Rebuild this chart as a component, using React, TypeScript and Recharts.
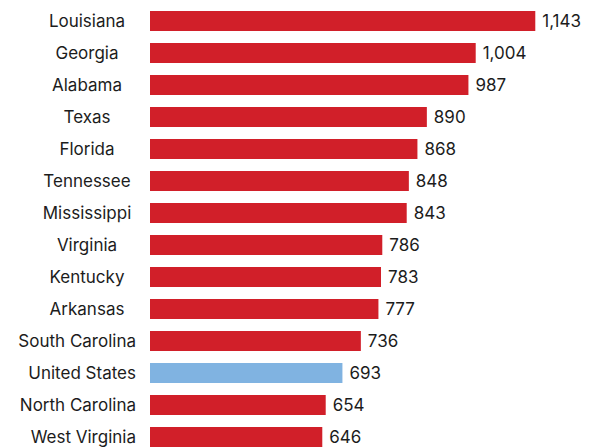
import React from "react";
import { BarChart, Bar, XAxis, YAxis, Cell, LabelList } from "recharts";

const states = [
  "Louisiana",
  "Georgia",
  "Alabama",
  "Texas",
  "Florida",
  "Tennessee",
  "Mississippi",
  "Virginia",
  "Kentucky",
  "Arkansas",
  "South Carolina",
  "United States",
  "North Carolina",
  "West Virginia",
];
const rates = [1143, 1004, 987, 890, 868, 848, 843, 786, 783, 777, 736, 693, 654, 646];
const highlight = "United States";

const RED = "#d11f29";
const BLUE = "#80b3e1";
const FONT = "Inter, 'Noto Sans', sans-serif";

const data = states.map((name, i) => ({ name, value: rates[i] }));

let ctx: CanvasRenderingContext2D | null = null;
function textWidth(s: string) {
  if (!ctx) ctx = document.createElement("canvas").getContext("2d");
  if (!ctx) return s.length * 8;
  ctx.font = `17px ${FONT}`;
  return ctx.measureText(s).width;
}

// short names sit centred in the label column, long ones hug the bars
function StateTick({ y, payload }: any) {
  const label = String(payload.value);
  const w = textWidth(label);
  const center = 87;
  const right = 136;
  const useEnd = center + w / 2 > right;
  return (
    <text
      x={useEnd ? right : center}
      y={y}
      dy="0.355em"
      textAnchor={useEnd ? "end" : "middle"}
      fill="#1c1c1c"
      fontSize={17}
      fontFamily={FONT}
    >
      {label}
    </text>
  );
}

export default function App() {
  return (
    <div style={{ position: "absolute", left: 0, top: 0, background: "#fff" }}>
      <BarChart
        width={606}
        height={453}
        data={data}
        layout="vertical"
        margin={{ top: 5, right: 0, left: 0, bottom: 0 }}
      >
        <XAxis type="number" hide domain={[244, 1308]} allowDataOverflow />
        <YAxis
          type="category"
          dataKey="name"
          width={150}
          axisLine={false}
          tickLine={false}
          interval={0}
          tick={<StateTick />}
        />
        <Bar dataKey="value" barSize={20} isAnimationActive={false}>
          {data.map((d) => (
            <Cell key={d.name} fill={d.name === highlight ? BLUE : RED} />
          ))}
          <LabelList
            dataKey="value"
            position="right"
            offset={7}
            fill="#1c1c1c"
            fontSize={17}
            fontFamily={FONT}
            formatter={(v: any) => Number(v).toLocaleString("en-US")}
          />
        </Bar>
      </BarChart>
    </div>
  );
}
